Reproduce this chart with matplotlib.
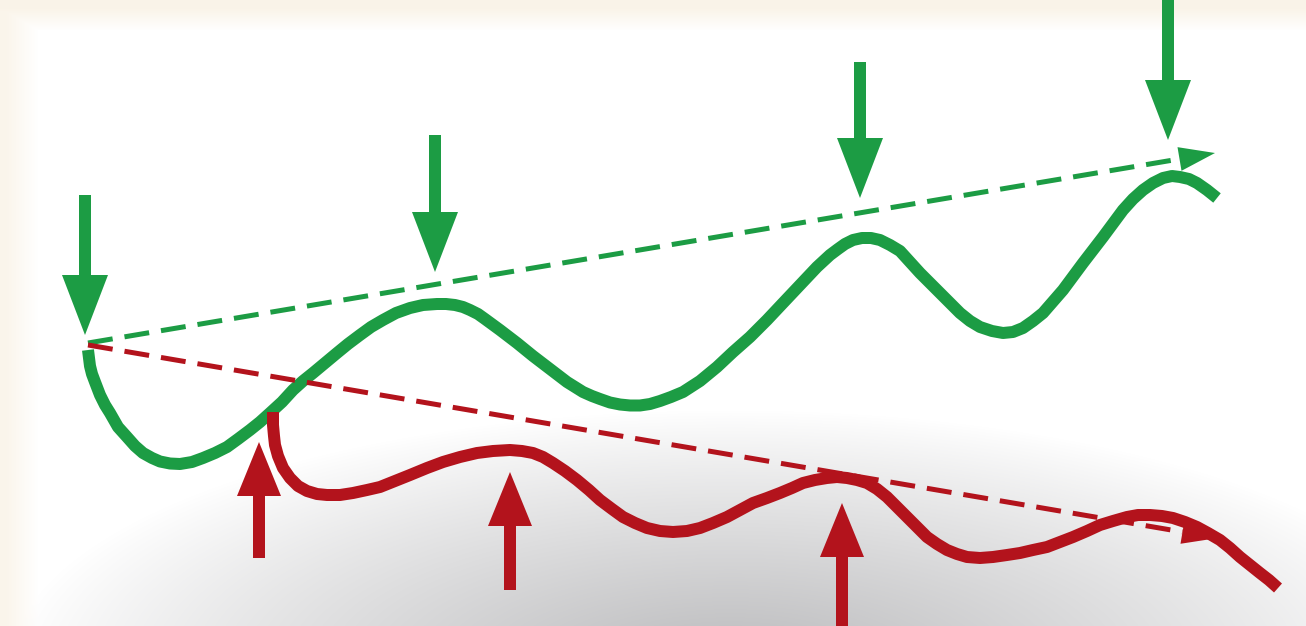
import numpy as np
import matplotlib.pyplot as plt

# -----------------------------
# values (pixel coords, y down)
# -----------------------------
green_x = [88, 89, 90, 92, 95, 100, 105, 110, 118, 127, 135, 143, 152, 160, 170, 180, 192, 203,
           215, 227, 238, 250, 260, 270, 282, 293, 303, 313, 325, 337, 348, 360, 371, 383, 396,
           410, 423, 437, 446, 455, 463, 470, 478, 485, 500, 517, 533, 550, 567, 583, 592, 600,
           610, 620, 630, 640, 650, 660, 671, 683, 700, 717, 733, 750, 767, 783, 800, 817, 830,
           838, 845, 853, 862, 871, 880, 890, 900, 910, 920, 940, 960, 970, 980, 992, 1003,
           1013, 1023, 1033, 1043, 1063, 1083, 1103, 1123, 1133, 1143, 1153, 1163, 1172, 1180,
           1189, 1197, 1207, 1217]
green_y = [350, 358, 366, 374, 382, 395, 405, 413, 427, 437, 446, 453, 458, 461.5, 463.5, 464, 462, 458,
           453, 447, 439, 430, 422, 413, 402, 390, 381, 373, 363, 353, 344, 335, 327, 320, 313,
           308, 305, 304, 304, 305, 307, 310, 314, 319, 330, 343, 356, 369, 382, 392, 396, 399,
           402.5, 404.5, 405.5, 405.5, 404, 401, 397, 392, 381, 367, 352, 337, 320, 303, 285, 267, 255,
           249, 244, 240, 238, 238, 240, 245, 251, 262, 273, 293, 313, 321, 327, 331, 333,
           332, 328, 321, 313, 290, 263, 237, 210, 199, 190, 183, 178, 176, 177,
           179, 183, 190, 198]

red_x = [273, 273, 274, 275, 278, 283, 290, 298, 307, 317, 327, 340, 353, 367, 380, 395, 410, 427,
         443, 460, 477, 493, 510, 522, 533, 543, 553, 565, 577, 589, 600, 612, 623, 635, 647, 660,
         673, 687, 700, 713, 727, 740, 753, 767, 780, 792, 803, 815, 827, 837, 847, 857, 867, 877,
         887, 897, 907, 917, 927, 937, 947, 957, 967, 980, 993, 1007, 1020, 1033, 1047, 1060, 1073,
         1087, 1100, 1113, 1127, 1138, 1150, 1162, 1173, 1185, 1197, 1208, 1220, 1230, 1240, 1250,
         1260, 1269, 1278]
red_y = [412, 425, 436, 445, 456, 468, 478, 486, 491, 494, 495, 495, 493, 490, 487, 481, 475, 468,
         462, 457, 453, 451, 450, 451, 453, 457, 463, 471, 480, 490, 500, 509, 517, 523, 528, 531,
         532, 531, 528, 523, 517, 510, 503, 498, 493, 488, 483, 480, 478, 477, 478, 480, 483, 489,
         497, 507, 517, 527, 537, 544, 550, 554, 557, 558, 557, 555, 553, 550, 547, 542, 537,
         531, 525, 521, 517, 515, 515, 516, 518, 522, 527, 533, 540, 548, 557, 565,
         573, 580, 588]

# dashed trend lines: start and arrow tip
green_trend_x = [88, 1215]
green_trend_y = [343, 153]
red_trend_x = [88, 1218]
red_trend_y = [345, 538]

# arrows: x, tail y, tip y
green_arrow_x = [85, 435, 860, 1168]
green_arrow_tail = [195, 135, 62, 0]
green_arrow_tip = [335, 272, 198, 140]

red_arrow_x = [259, 510, 842]
red_arrow_tail = [558, 590, 626]
red_arrow_tip = [442, 472, 503]

GREEN = "#1c9c44"
RED = "#b3131c"

W, H = 1306, 626

# -----------------------------
# background: beige rim + gray floor shadow
# -----------------------------
yy, xx = np.mgrid[0:H, 0:W].astype(float)
beige = np.array([0.98, 0.955, 0.91])
w_top = np.clip(1.0 - (yy - 8) / 22.0, 0, 1)
w_left = np.clip(1.0 - (xx - 6) / 32.0, 0, 1) * 0.85
w_beige = np.maximum(w_top, w_left)

d = np.sqrt(((xx - 730) / 720.0) ** 2 + ((yy - 665) / 255.0) ** 2)
shade = np.clip(1.0 - d, 0, 1) ** 0.9 * 0.27

bg = np.ones((H, W, 3)) * (1 - shade[..., None])
bg[..., 2] += shade * 0.03
bg = np.clip(bg, 0, 1)
bg = bg * (1 - w_beige[..., None]) + beige * w_beige[..., None]

fig = plt.figure(figsize=(13.06, 6.26), dpi=100)
ax = fig.add_axes([0, 0, 1, 1])
ax.imshow(bg, extent=(0, W, H, 0), zorder=0)
ax.set_xlim(0, W)
ax.set_ylim(H, 0)
ax.axis("off")

px = 0.72  # points per pixel

# dashed trend lines with heads
for tx, ty, c, z in [(green_trend_x, green_trend_y, GREEN, 2), (red_trend_x, red_trend_y, RED, 4)]:
    dx = tx[1] - tx[0]
    dy = ty[1] - ty[0]
    L = np.hypot(dx, dy)
    ux, uy = dx / L, dy / L
    ax.plot([tx[0], tx[1] - 36 * ux], [ty[0], ty[1] - 36 * uy], color=c, lw=5 * px,
            dashes=(5, 2.4), zorder=z)
    ax.arrow(tx[1] - 36 * ux, ty[1] - 36 * uy, 36 * ux, 36 * uy, width=0.1,
             head_width=24, head_length=36, length_includes_head=True,
             color=c, lw=0, zorder=z)

# main curves
ax.plot(green_x, green_y, color=GREEN, lw=12 * px, solid_capstyle="butt",
        solid_joinstyle="round", zorder=3)
ax.plot(red_x, red_y, color=RED, lw=12 * px, solid_capstyle="butt",
        solid_joinstyle="round", zorder=3)

# vertical arrows
for x, t0, t1 in zip(green_arrow_x, green_arrow_tail, green_arrow_tip):
    ax.arrow(x, t0, 0, t1 - t0, width=12, head_width=46, head_length=60,
             length_includes_head=True, color=GREEN, lw=0, zorder=5)
for x, t0, t1 in zip(red_arrow_x, red_arrow_tail, red_arrow_tip):
    ax.arrow(x, t0, 0, t1 - t0, width=12, head_width=44, head_length=54,
             length_includes_head=True, color=RED, lw=0, zorder=5)

fig.savefig("out.png", dpi=100)
